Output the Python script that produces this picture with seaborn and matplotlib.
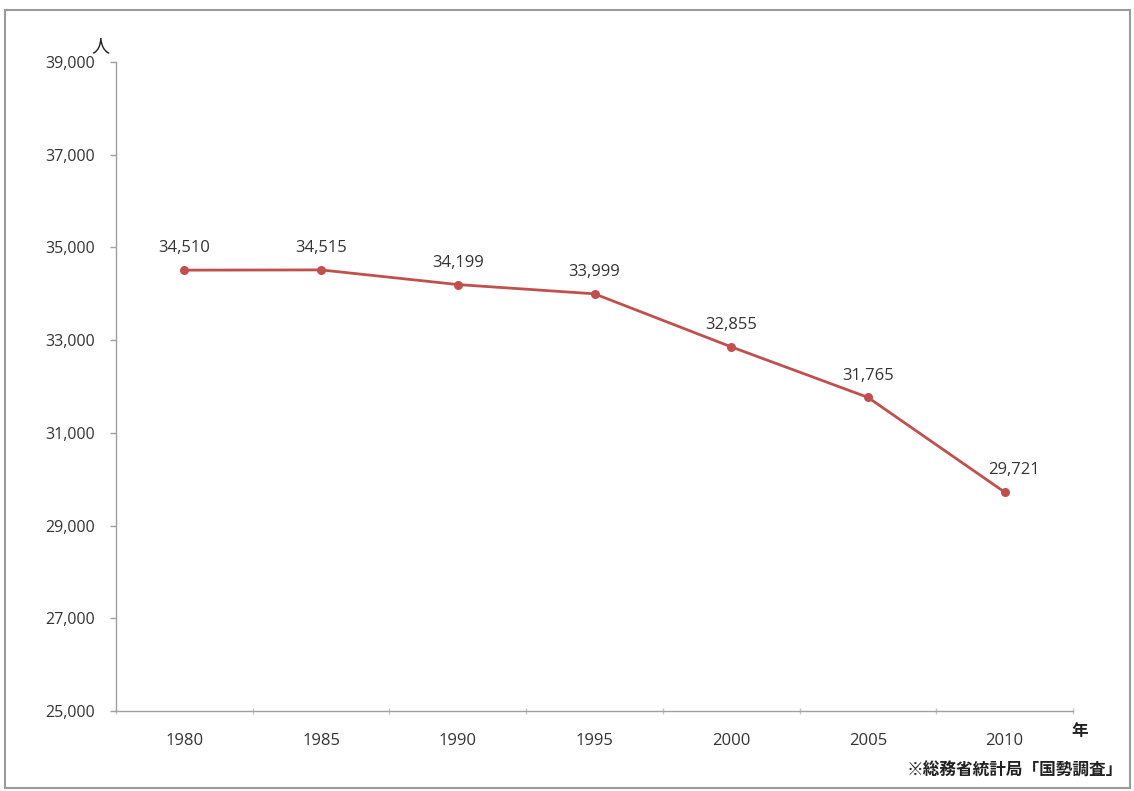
import matplotlib
matplotlib.use("Agg")
import matplotlib.pyplot as plt
from matplotlib.patches import Rectangle
import seaborn as sns
import pandas as pd

years = ["1980", "1985", "1990", "1995", "2000", "2005", "2010"]
population = [34510, 34515, 34199, 33999, 32855, 31765, 29721]
y_ticks = [25000, 27000, 29000, 31000, 33000, 35000, 37000, 39000]

sns.set_theme(style="white")
plt.rcParams['font.family'] = ['Open Sans', 'Noto Sans CJK JP', 'DejaVu Sans']

df = pd.DataFrame({"year": years, "pop": population})

fig = plt.figure(figsize=(11.34, 7.91), dpi=100)
ax = fig.add_axes([116/1134, 1-711/791, (1073-116)/1134, (711-62)/791])

line_color = "#C0504D"
sns.pointplot(data=df, x="year", y="pop", ax=ax, color=line_color,
              markers="o", markersize=5, linewidth=2)

for i, v in enumerate(population):
    dx = 7 if i == len(population) - 1 else 0
    ax.annotate(f"{v:,}", (i, v), xytext=(dx, 10), textcoords="offset points",
                ha="center", va="bottom", fontsize=12, color="#333333")

ax.set_xlim(-0.5, len(years) - 0.5)
ax.set_ylim(y_ticks[0], y_ticks[-1])
ax.set_yticks(y_ticks)
ax.set_yticklabels([f"{t:,}" for t in y_ticks])
ax.set_xlabel("")
ax.set_ylabel("")

for s in ["top", "right"]:
    ax.spines[s].set_visible(False)
for s in ["left", "bottom"]:
    ax.spines[s].set_color("#A0A0A0")
    ax.spines[s].set_linewidth(1)

ax.tick_params(axis="x", which="major", length=0, pad=16, labelsize=12, labelcolor="#333333")
ax.tick_params(axis="y", which="major", length=4, width=1, color="#A0A0A0",
               direction="out", pad=11, labelsize=11.5, labelcolor="#333333", left=True)
ax.set_xticks([i + 0.5 for i in range(-1, len(years))], minor=True)
ax.tick_params(axis="x", which="minor", length=5, width=1, color="#C8C8C8",
               direction="inout", bottom=True)

fig.text(100/1134, 1-46/791, "人", ha="center", va="center", fontsize=13,
         family=['Noto Sans CJK JP', 'DejaVu Sans'], color="#222222")
fig.text(1080/1134, 1-731/791, "年", ha="center", va="center", fontsize=12,
         fontweight="bold", family=['Noto Sans CJK JP', 'DejaVu Sans'], color="#222222")
fig.text(1123/1134, 1-771/791, "※総務省統計局「国勢調査」", ha="right", va="center",
         fontsize=12, fontweight="bold", family=['Noto Sans CJK JP', 'DejaVu Sans'],
         color="#222222")

fig.patches.append(Rectangle((5/1134, 1-788/791), (1130-5)/1134, (788-10)/791,
                             transform=fig.transFigure, fill=False,
                             edgecolor="#9A9A9A", linewidth=1.5))

fig.savefig("out.png", dpi=100)
